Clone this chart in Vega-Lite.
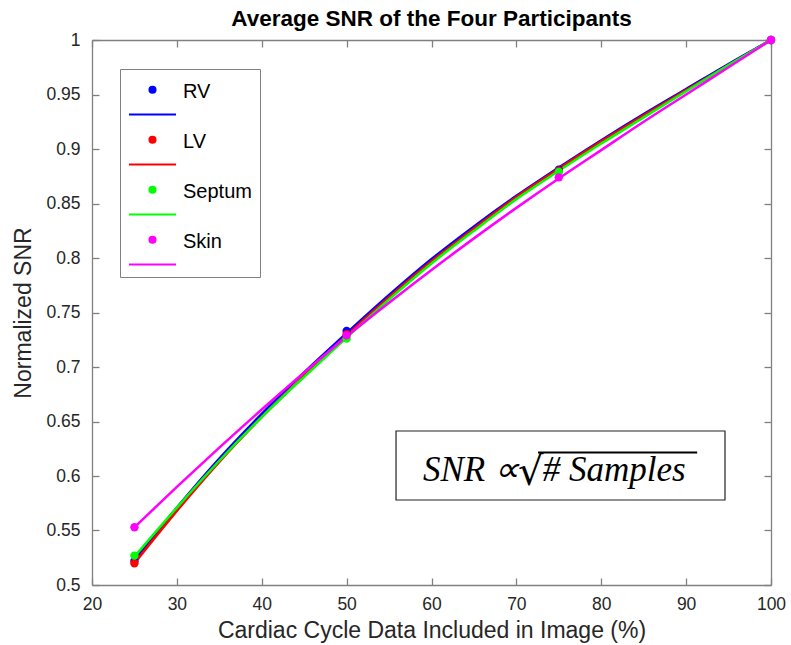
{
  "$schema": "https://vega.github.io/schema/vega-lite/v6.json",
  "autosize": {"type": "none"},
  "width": 679,
  "height": 545,
  "padding": {"left": 92, "top": 40, "right": 20, "bottom": 60},
  "background": "white",
  "title": {
    "text": "Average SNR of the Four Participants",
    "font": "Liberation Sans",
    "fontSize": 22.5,
    "fontWeight": "bold",
    "color": "#000000",
    "anchor": "middle",
    "offset": 1
  },
  "config": {
    "view": {"stroke": null},
    "axis": {
      "grid": false,
      "domainColor": "#808080",
      "domainWidth": 1.3,
      "tickColor": "#808080",
      "tickWidth": 1.3,
      "tickSize": -7,
      "labelFlush": false,
      "labelFont": "Liberation Sans",
      "labelFontSize": 17.5,
      "labelColor": "#262626",
      "titleFont": "Liberation Sans",
      "titleFontSize": 23,
      "titleFontWeight": "normal",
      "titleColor": "#262626"
    }
  },
  "datasets": {
    "curves": [
      {"series": "RV", "x": 25, "y": 0.523}, {"series": "RV", "x": 30, "y": 0.571}, {"series": "RV", "x": 35, "y": 0.616}, {"series": "RV", "x": 40, "y": 0.657}, {"series": "RV", "x": 45, "y": 0.695}, {"series": "RV", "x": 50, "y": 0.731}, {"series": "RV", "x": 55, "y": 0.766}, {"series": "RV", "x": 60, "y": 0.799}, {"series": "RV", "x": 65, "y": 0.829}, {"series": "RV", "x": 70, "y": 0.857}, {"series": "RV", "x": 75, "y": 0.883}, {"series": "RV", "x": 80, "y": 0.908}, {"series": "RV", "x": 85, "y": 0.932}, {"series": "RV", "x": 90, "y": 0.955}, {"series": "RV", "x": 95, "y": 0.978}, {"series": "RV", "x": 100, "y": 1.0},
      {"series": "LV", "x": 25, "y": 0.520}, {"series": "LV", "x": 30, "y": 0.568}, {"series": "LV", "x": 35, "y": 0.613}, {"series": "LV", "x": 40, "y": 0.654}, {"series": "LV", "x": 45, "y": 0.692}, {"series": "LV", "x": 50, "y": 0.729}, {"series": "LV", "x": 55, "y": 0.764}, {"series": "LV", "x": 60, "y": 0.797}, {"series": "LV", "x": 65, "y": 0.827}, {"series": "LV", "x": 70, "y": 0.856}, {"series": "LV", "x": 75, "y": 0.882}, {"series": "LV", "x": 80, "y": 0.907}, {"series": "LV", "x": 85, "y": 0.931}, {"series": "LV", "x": 90, "y": 0.954}, {"series": "LV", "x": 95, "y": 0.977}, {"series": "LV", "x": 100, "y": 1.0},
      {"series": "Septum", "x": 25, "y": 0.526}, {"series": "Septum", "x": 30, "y": 0.571}, {"series": "Septum", "x": 35, "y": 0.614}, {"series": "Septum", "x": 40, "y": 0.654}, {"series": "Septum", "x": 45, "y": 0.691}, {"series": "Septum", "x": 50, "y": 0.727}, {"series": "Septum", "x": 55, "y": 0.762}, {"series": "Septum", "x": 60, "y": 0.795}, {"series": "Septum", "x": 65, "y": 0.825}, {"series": "Septum", "x": 70, "y": 0.854}, {"series": "Septum", "x": 75, "y": 0.880}, {"series": "Septum", "x": 80, "y": 0.905}, {"series": "Septum", "x": 85, "y": 0.929}, {"series": "Septum", "x": 90, "y": 0.953}, {"series": "Septum", "x": 95, "y": 0.977}, {"series": "Septum", "x": 100, "y": 1.0},
      {"series": "Skin", "x": 25, "y": 0.553}, {"series": "Skin", "x": 30, "y": 0.590}, {"series": "Skin", "x": 35, "y": 0.626}, {"series": "Skin", "x": 40, "y": 0.661}, {"series": "Skin", "x": 45, "y": 0.695}, {"series": "Skin", "x": 50, "y": 0.728}, {"series": "Skin", "x": 55, "y": 0.759}, {"series": "Skin", "x": 60, "y": 0.789}, {"series": "Skin", "x": 65, "y": 0.818}, {"series": "Skin", "x": 70, "y": 0.846}, {"series": "Skin", "x": 75, "y": 0.873}, {"series": "Skin", "x": 80, "y": 0.899}, {"series": "Skin", "x": 85, "y": 0.925}, {"series": "Skin", "x": 90, "y": 0.950}, {"series": "Skin", "x": 95, "y": 0.975}, {"series": "Skin", "x": 100, "y": 1.0}
    ],
    "points": [
      {"series": "RV", "x": 25, "y": 0.522}, {"series": "RV", "x": 50, "y": 0.733}, {"series": "RV", "x": 75, "y": 0.881}, {"series": "RV", "x": 100, "y": 1.0},
      {"series": "LV", "x": 25, "y": 0.520}, {"series": "LV", "x": 50, "y": 0.730}, {"series": "LV", "x": 75, "y": 0.880}, {"series": "LV", "x": 100, "y": 1.0},
      {"series": "Septum", "x": 25, "y": 0.527}, {"series": "Septum", "x": 50, "y": 0.726}, {"series": "Septum", "x": 75, "y": 0.879}, {"series": "Septum", "x": 100, "y": 1.0},
      {"series": "Skin", "x": 25, "y": 0.553}, {"series": "Skin", "x": 50, "y": 0.729}, {"series": "Skin", "x": 75, "y": 0.874}, {"series": "Skin", "x": 100, "y": 1.0}
    ]
  },
  "resolve": {"axis": {"x": "independent", "y": "independent"}},
  "layer": [
    {
      "data": {"name": "curves"},
      "mark": {"type": "line", "strokeWidth": 2.5, "interpolate": "monotone"},
      "encoding": {
        "x": {"field": "x", "type": "quantitative", "scale": {"domain": [20, 100]},
              "axis": {"values": [20, 30, 40, 50, 60, 70, 80, 90, 100], "title": "Cardiac Cycle Data Included in Image (%)", "labelPadding": 17, "titlePadding": 7}},
        "y": {"field": "y", "type": "quantitative", "scale": {"domain": [0.5, 1], "zero": false},
              "axis": {"values": [0.5, 0.55, 0.6, 0.65, 0.7, 0.75, 0.8, 0.85, 0.9, 0.95, 1], "format": "~g", "title": "Normalized SNR", "labelPadding": 19, "titlePadding": 10}},
        "color": {"field": "series", "type": "nominal",
                  "scale": {"domain": ["RV", "LV", "Septum", "Skin"], "range": ["#0000ff", "#ff0000", "#00ff00", "#ff00ff"]},
                  "legend": {
                    "title": null, "orient": "none", "legendX": 28, "legendY": 29, "direction": "vertical",
                    "padding": 8, "strokeColor": "#808080", "fillColor": "#ffffff",
                    "symbolType": "M -0.13,-0.5 A 0.13,0.13 0 1,0 0.13,-0.5 A 0.13,0.13 0 1,0 -0.13,-0.5 Z M -1,0.55 L 1,0.55",
                    "symbolSize": 2209, "symbolStrokeWidth": 2,
                    "labelFont": "Liberation Sans", "labelFontSize": 20, "labelColor": "#000000", "labelOffset": 6,
                    "labelBaseline": "bottom", "rowPadding": 8,
                    "encode": {"symbols": {"update": {"fill": {"scale": "color", "field": "value"}, "stroke": {"scale": "color", "field": "value"}, "opacity": {"value": 1}, "fillOpacity": {"value": 1}}}}
                  }}
      }
    },
    {
      "data": {"name": "points"},
      "mark": {"type": "point", "filled": true, "size": 70, "opacity": 1},
      "encoding": {
        "x": {"field": "x", "type": "quantitative", "axis": {"orient": "top", "values": [20, 30, 40, 50, 60, 70, 80, 90, 100], "labels": false, "title": null}},
        "y": {"field": "y", "type": "quantitative", "axis": {"orient": "right", "values": [0.5, 0.55, 0.6, 0.65, 0.7, 0.75, 0.8, 0.85, 0.9, 0.95, 1], "labels": false, "title": null}},
        "color": {"field": "series", "type": "nominal", "legend": null}
      }
    },
    {
      "data": {"values": [{}]},
      "mark": {"type": "rect", "fill": "#ffffff", "stroke": "#222222", "strokeWidth": 1.2},
      "encoding": {
        "x": {"datum": 55.82, "type": "quantitative", "axis": null},
        "x2": {"datum": 94.58},
        "y": {"datum": 0.6413, "type": "quantitative", "axis": null},
        "y2": {"datum": 0.578}
      }
    },
    {
      "data": {"values": [{}]},
      "mark": {"type": "text", "text": "SNR ∝", "font": "Liberation Serif", "fontStyle": "italic", "fontSize": 35, "align": "left", "baseline": "alphabetic", "color": "#000000"},
      "encoding": {
        "x": {"datum": 59.0, "type": "quantitative", "axis": null},
        "y": {"datum": 0.5954, "type": "quantitative", "axis": null}
      }
    },
    {
      "data": {"values": [{}]},
      "mark": {"type": "text", "text": "√", "font": "DejaVu Serif", "fontSize": 40, "align": "left", "baseline": "alphabetic", "color": "#000000"},
      "encoding": {
        "x": {"datum": 70.2, "type": "quantitative", "axis": null},
        "y": {"datum": 0.5915, "type": "quantitative", "axis": null}
      }
    },
    {
      "data": {"values": [{}]},
      "mark": {"type": "text", "text": "# Samples", "font": "Liberation Serif", "fontStyle": "italic", "fontSize": 35, "align": "left", "baseline": "alphabetic", "color": "#000000"},
      "encoding": {
        "x": {"datum": 73.1, "type": "quantitative", "axis": null},
        "y": {"datum": 0.5954, "type": "quantitative", "axis": null}
      }
    },
    {
      "data": {"values": [{}]},
      "mark": {"type": "rule", "color": "#000000", "strokeWidth": 2},
      "encoding": {
        "x": {"datum": 72.55, "type": "quantitative", "axis": null},
        "x2": {"datum": 91.3},
        "y": {"datum": 0.6215, "type": "quantitative", "axis": null}
      }
    }
  ]
}
